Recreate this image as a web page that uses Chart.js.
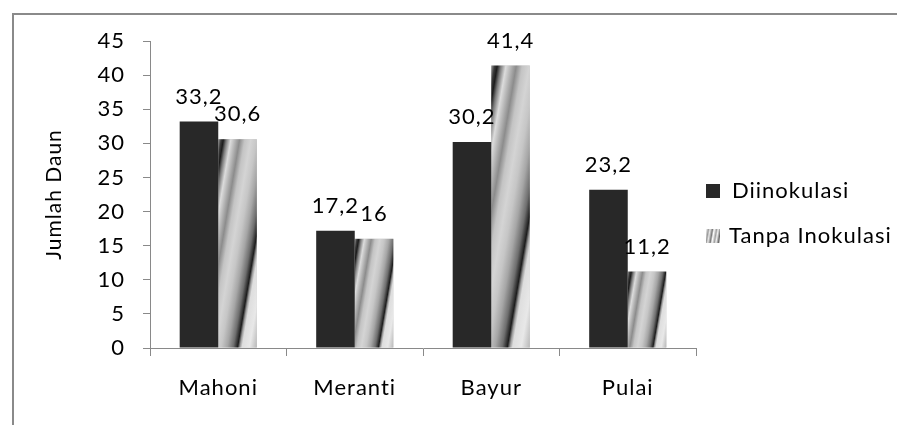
<!DOCTYPE html>
<html>
<head>
<meta charset="utf-8">
<script src="https://cdn.jsdelivr.net/npm/chart.js@4.4.1/dist/chart.umd.min.js"></script>
<style>
  html, body { margin: 0; padding: 0; background: #ffffff; }
  #wrap { position: relative; width: 897px; height: 425px; overflow: hidden; }
  #frame { position: absolute; left: 12px; top: 13px; width: 900px; height: 430px;
           border-left: 2px solid #8a8a8a; border-top: 2px solid #8a8a8a; box-sizing: border-box; }
  #c { position: absolute; left: 0; top: 0; }
</style>
</head>
<body>
<div id="wrap">
  <div id="frame"></div>
  <canvas id="c" width="897" height="425"></canvas>
</div>
<script>
// Leaf counts per tree species
const categories = ['Mahoni', 'Meranti', 'Bayur', 'Pulai'];
const seriesNames = ['Diinokulasi', 'Tanpa Inokulasi'];
const diinokulasi = [33.2, 17.2, 30.2, 23.2];
const tanpaInokulasi = [30.6, 16, 41.4, 11.2];
const yTicks = [0, 5, 10, 15, 20, 25, 30, 35, 40, 45];
const yTitle = 'Jumlah Daun';

const FONT = 'Lato, "Open Sans", sans-serif';
const AXIS_GREY = '#898989';
const DARK = '#282828';

// Metallic streak fill: linear gradient tilted slightly off vertical
const STREAK_SLOPE = 0.17;
const STREAK_STOPS = [
  [0.00, '#9c9c9c'], [0.04, '#3a3a3a'], [0.07, '#1c1c1c'], [0.11, '#7a7a7a'],
  [0.17, '#dcdcdc'], [0.23, '#b4b4b4'], [0.29, '#8c8c8c'], [0.36, '#c4c4c4'],
  [0.44, '#d4d4d4'], [0.52, '#c6c6c6'], [0.60, '#a6a6a6'], [0.68, '#6e6e6e'],
  [0.74, '#1c1c1c'], [0.77, '#9a9a9a'], [0.80, '#dedede'], [0.90, '#e8e8e8'],
  [1.00, '#b8b8b8']
];
function streakGradient(ctx, x0, y0, x1, y1, stops) {
  const u0 = x0 + STREAK_SLOPE * y0, u1 = x1 + STREAK_SLOPE * y1;
  const t = (u1 - u0) / (1 + STREAK_SLOPE * STREAK_SLOPE);
  const g = ctx.createLinearGradient(x0, y0, x0 + t, y0 + t * STREAK_SLOPE);
  (stops || STREAK_STOPS).forEach(([p, c]) => g.addColorStop(p, c));
  return g;
}

// Slightly open letter spacing for all canvas text (also keeps "ti" unligated)
const textSpacing = {
  id: 'textSpacing',
  beforeDraw(chart) {
    if ('letterSpacing' in chart.ctx) chart.ctx.letterSpacing = '1px';
  }
};

// Paints the streak fill over each bar of the second series
const streakPlugin = {
  id: 'streak',
  afterDatasetDraw(chart, args) {
    if (args.index !== 1) return;
    const ctx = chart.ctx;
    ctx.save();
    args.meta.data.forEach(bar => {
      const p = bar.getProps(['x', 'y', 'base', 'width'], true);
      const left = p.x - p.width / 2, right = p.x + p.width / 2;
      const top = Math.min(p.y, p.base), bottom = Math.max(p.y, p.base);
      ctx.fillStyle = streakGradient(ctx, left, top, right, bottom);
      ctx.fillRect(left, top, right - left, bottom - top);
    });
    ctx.restore();
  }
};

// Value labels above every bar, decimal comma
const valueLabels = {
  id: 'valueLabels',
  afterDatasetsDraw(chart) {
    const ctx = chart.ctx;
    ctx.save();
    ctx.font = '22px ' + FONT;
    ctx.fillStyle = '#000';
    ctx.textAlign = 'center';
    ctx.textBaseline = 'alphabetic';
    chart.data.datasets.forEach((ds, di) => {
      chart.getDatasetMeta(di).data.forEach((bar, i) => {
        const text = String(ds.data[i]).replace('.', ',');
        ctx.fillText(text, bar.x, bar.y - 18);
      });
    });
    ctx.restore();
  }
};

// Legend on the right of the plot
const sideLegend = {
  id: 'sideLegend',
  afterDraw(chart) {
    const ctx = chart.ctx;
    const area = chart.chartArea;
    const x = area.right + 10;
    const rows = [191, 236];
    ctx.save();
    ctx.font = '22px ' + FONT;
    ctx.textBaseline = 'middle';
    ctx.textAlign = 'left';
    seriesNames.forEach((name, i) => {
      const cy = rows[i];
      if (i === 0) {
        ctx.fillStyle = DARK;
        ctx.fillRect(x, cy - 7, 14, 14);
      } else {
        ctx.fillStyle = streakGradient(ctx, x, cy - 7, x + 14, cy + 7, [
          [0, '#ffffff'], [0.15, '#9a9a9a'], [0.25, '#e8e8e8'], [0.4, '#7a7a7a'],
          [0.5, '#ffffff'], [0.65, '#a0a0a0'], [0.75, '#f0f0f0'], [0.9, '#6a6a6a'], [1, '#ffffff']
        ]);
        ctx.fillRect(x, cy - 7, 14, 14);
      }
      ctx.fillStyle = '#000';
      ctx.fillText(name, x + (i === 0 ? 26 : 23), cy);
    });
    ctx.restore();
  }
};

new Chart(document.getElementById('c'), {
  type: 'bar',
  data: {
    labels: categories,
    datasets: [
      { label: seriesNames[0], data: diinokulasi, backgroundColor: DARK, borderWidth: 0 },
      { label: seriesNames[1], data: tanpaInokulasi, backgroundColor: '#c8c8c8', borderWidth: 0 }
    ]
  },
  options: {
    responsive: false,
    animation: false,
    devicePixelRatio: 1,
    events: [],
    layout: { padding: { left: 0, right: 201, top: 41, bottom: 0 } },
    datasets: { bar: { categoryPercentage: 0.565, barPercentage: 1.0 } },
    plugins: { legend: { display: false }, tooltip: { enabled: false } },
    scales: {
      x: {
        afterFit(scale) { scale.height = 77; },
        grid: { display: true, drawOnChartArea: false, drawTicks: true, tickLength: 8,
                color: AXIS_GREY, offset: true },
        border: { display: true, color: AXIS_GREY, width: 1 },
        ticks: { color: '#000', font: { family: FONT, size: 22 }, padding: 19 }
      },
      y: {
        min: 0, max: 45,
        afterFit(scale) { scale.width = 150; },
        afterBuildTicks(scale) { scale.ticks = yTicks.map(v => ({ value: v })); },
        grid: { display: true, drawOnChartArea: false, drawTicks: true, tickLength: 7,
                color: AXIS_GREY },
        border: { display: true, color: AXIS_GREY, width: 1 },
        ticks: { color: '#000', font: { family: FONT, size: 22 }, padding: 18 },
        title: { display: true, text: yTitle, color: '#000',
                 font: { family: FONT, size: 21 }, padding: { top: 42, bottom: 0 } }
      }
    }
  },
  plugins: [textSpacing, streakPlugin, valueLabels, sideLegend]
});
</script>
</body>
</html>
